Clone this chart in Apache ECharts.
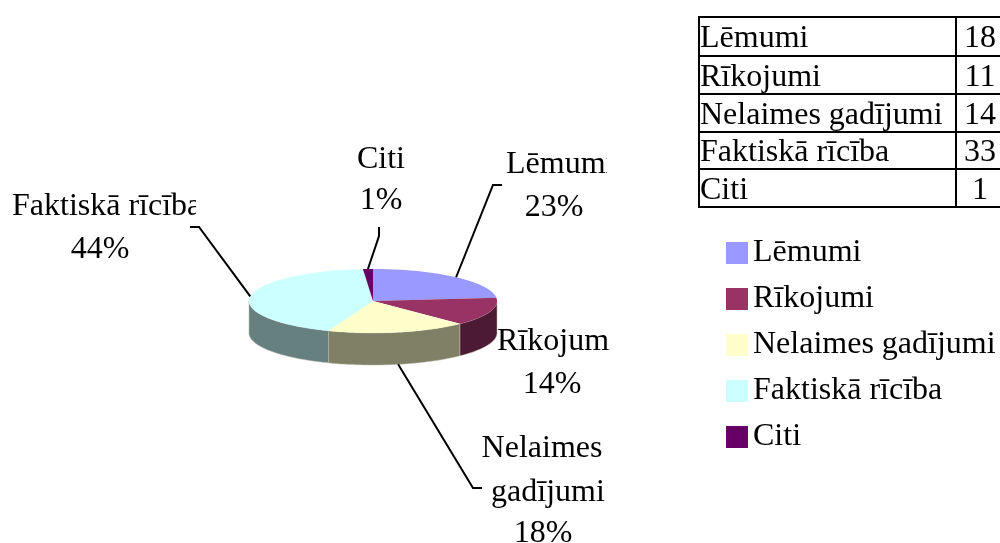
<!DOCTYPE html>
<html>
<head>
<meta charset="utf-8">
<style>html,body{margin:0;padding:0;background:#fff}#c{width:1000px;height:543px}</style>
<script src="https://cdn.jsdelivr.net/npm/echarts@6/dist/echarts.min.js"></script>
</head>
<body>
<div id="c"></div>
<script>
const categories = ["Lēmumi", "Rīkojumi", "Nelaimes gadījumi", "Faktiskā rīcība", "Citi"];
const values = [18, 11, 14, 33, 1];
const percentLabels = ["23%", "14%", "18%", "44%", "1%"];
const topColors = ["#9999FF", "#993366", "#FFFFCC", "#CCFFFF", "#660066"];
const sideColors = ["#4D4D80", "#4D1A33", "#808066", "#668080", "#330033"];
const FONT = '"Liberation Serif","Times New Roman",serif';
const FS = 32;
const CX = 373, CY = 301, RX = 124, RY = 32, DEPTH = 32;
const total = values.reduce((a, b) => a + b, 0);

// one entry per slice: text lines [text, x, y, align], clip edges, leader elbow points
const labelLayout = [
  { lines: [["Lēmumi", 506, 165, "left"], [null, 554, 208, "center"]], clip: [0, 607], leader: [[493, 185], [502, 185]], dy: 0 },
  { lines: [["Rīkojumi", 497, 342, "left"], [null, 552, 385, "center"]], clip: [0, 610], leader: null, dy: 0 },
  { lines: [["Nelaimes", 542, 449, "center"], ["gadījumi", 548, 493, "center"], [null, 543, 534, "center"]], clip: [0, 1000], leader: [[473, 488], [482, 488]], dy: DEPTH },
  { lines: [["Faktiskā rīcība", 12, 207, "left"], [null, 100, 250, "center"]], clip: [0, 196], leader: [[199, 227], [190, 227]], dy: 0 },
  { lines: [["Citi", 381, 160, "center"], [null, 381, 201, "center"]], clip: [0, 1000], leader: [[379, 236], [379, 227]], dy: 0 }
];

function pt(deg, dy) {
  const a = deg * Math.PI / 180;
  return [CX + RX * Math.sin(a), CY - RY * Math.cos(a) + (dy || 0)];
}
function arc(from, to, dy) {
  const out = [];
  const n = Math.max(2, Math.ceil(Math.abs(to - from) / 1.5));
  for (let i = 0; i <= n; i++) out.push(pt(from + (to - from) * i / n, dy));
  return out;
}
function renderSlice(params, api) {
  const idx = params.seriesIndex;
  const v = api.value(0);
  let start = 0;
  for (let i = 0; i < idx; i++) start += values[i];
  const a0 = start / total * 360, a1 = (start + v) / total * 360;
  const children = [];
  // visible side wall (front half of the ellipse)
  const s0 = Math.max(a0, 90), s1 = Math.min(a1, 270);
  if (s1 > s0) {
    children.push({
      type: "polygon",
      shape: { points: arc(s0, s1, 0).concat(arc(s1, s0, DEPTH)) },
      style: { fill: sideColors[idx], stroke: "#b9b9a8", lineWidth: 0.5 }
    });
  }
  // top face
  children.push({
    type: "polygon",
    shape: { points: [[CX, CY]].concat(arc(a0, a1, 0)) },
    style: { fill: topColors[idx] }
  });
  const lay = labelLayout[idx];
  if (lay.leader) {
    const mid = pt((a0 + a1) / 2, lay.dy);
    children.push({
      type: "polyline",
      shape: { points: [mid].concat(lay.leader) },
      style: { fill: null, stroke: "#000", lineWidth: 2 }
    });
  }
  lay.lines.forEach(l => {
    children.push({
      type: "text",
      clipPath: { type: "rect", shape: { x: lay.clip[0], y: 0, width: lay.clip[1] - lay.clip[0], height: 543 } },
      style: {
        text: l[0] === null ? percentLabels[idx] : l[0],
        x: l[1], y: l[2], align: l[3], verticalAlign: "middle",
        fill: "#000", font: FS + "px " + FONT
      }
    });
  });
  return { type: "group", children };
}

// data table drawn with graphic elements, from the same arrays
const rowLines = [17, 56, 94, 132, 169, 207];
const tableGraphic = [];
rowLines.forEach(y => tableGraphic.push({
  type: "line", shape: { x1: 698, y1: y, x2: 1000, y2: y }, style: { stroke: "#000", lineWidth: 2 }
}));
[699, 956].forEach(x => tableGraphic.push({
  type: "line", shape: { x1: x, y1: 16, x2: x, y2: 208 }, style: { stroke: "#000", lineWidth: 2 }
}));
categories.forEach((c, i) => {
  const y = (rowLines[i] + rowLines[i + 1]) / 2 + 2.5;
  tableGraphic.push({
    type: "text", style: { text: c, x: 700, y, verticalAlign: "middle", align: "left", fill: "#000", font: FS + "px " + FONT }
  });
  tableGraphic.push({
    type: "text", style: { text: String(values[i]), x: 980, y, verticalAlign: "middle", align: "center", fill: "#000", font: FS + "px " + FONT }
  });
});

const chart = echarts.init(document.getElementById("c"), null, { renderer: "canvas" });
chart.setOption({
  animation: false,
  backgroundColor: "#fff",
  tooltip: { show: false },
  legend: {
    left: 726, top: 237, orient: "vertical", padding: 0,
    itemWidth: 22, itemHeight: 22, itemGap: 14, icon: "rect", selectedMode: false,
    data: categories,
    textStyle: { fontFamily: FONT, fontSize: FS, color: "#000", lineHeight: 22 }
  },
  graphic: { elements: tableGraphic },
  series: categories.map((name, i) => ({
    type: "custom",
    name,
    coordinateSystem: "none",
    silent: true,
    itemStyle: { color: topColors[i] },
    renderItem: renderSlice,
    data: [[values[i]]]
  }))
});
</script>
</body>
</html>
